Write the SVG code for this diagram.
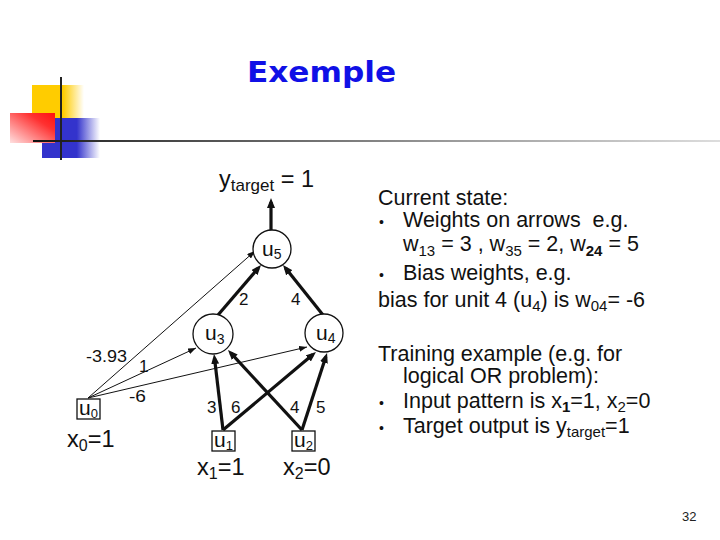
<svg xmlns="http://www.w3.org/2000/svg" width="720" height="540" viewBox="0 0 720 540">
<style>
.t{font-family:"Liberation Sans",Arial,sans-serif;fill:#111}
.rt{font-size:21.5px}
.dl{font-family:"Liberation Sans",Arial,sans-serif;fill:#111}
.node{fill:#fff;stroke:#111;stroke-width:1.3}
.thick{stroke:#111;stroke-width:3.2;fill:none}
.thin{stroke:#111;stroke-width:1;fill:none}
</style>
<defs>
<linearGradient id="gY" x1="0" y1="0" x2="1" y2="0"><stop offset="0" stop-color="#ffcc00"/><stop offset="0.6" stop-color="#ffcc00"/><stop offset="1" stop-color="#ffcc00" stop-opacity="0"/></linearGradient>
<linearGradient id="gB" x1="0" y1="0" x2="1" y2="0"><stop offset="0" stop-color="#3333cc"/><stop offset="0.6" stop-color="#3333cc"/><stop offset="1" stop-color="#3333cc" stop-opacity="0"/></linearGradient>
<linearGradient id="gR" x1="0" y1="1" x2="1" y2="0"><stop offset="0" stop-color="#ffe0e0"/><stop offset="0.7" stop-color="#ff3030"/><stop offset="1" stop-color="#ff1010"/></linearGradient>
<linearGradient id="gL" x1="33" y1="0" x2="720" y2="0" gradientUnits="userSpaceOnUse"><stop offset="0" stop-color="#111"/><stop offset="0.1" stop-color="#333"/><stop offset="0.6" stop-color="#999"/><stop offset="1" stop-color="#ddd"/></linearGradient>
<marker id="ahT" markerUnits="userSpaceOnUse" markerWidth="10" markerHeight="8" refX="6" refY="4" orient="auto"><path d="M0,0 L10,4 L0,8 z" fill="#111"/></marker>
<marker id="ahS" markerUnits="userSpaceOnUse" markerWidth="8" markerHeight="6" refX="8" refY="3" orient="auto"><path d="M0,0 L8,3 L0,6 z" fill="#111"/></marker>
</defs>
<rect width="720" height="540" fill="#fff"/>
<g id="decoration">
<rect x="32" y="85" width="52" height="34" fill="url(#gY)"/>
<rect x="42" y="118" width="58" height="40" fill="url(#gB)"/>
<rect x="10" y="113" width="45" height="30" fill="url(#gR)"/>
<line x1="61" y1="77" x2="61" y2="160" stroke="#222" stroke-width="2"/>
<line x1="33" y1="141" x2="720" y2="141" stroke="url(#gL)" stroke-width="2"/>
</g>
<text id="title" x="247" y="82" font-family="'DejaVu Sans',Verdana,sans-serif" font-weight="bold" font-size="28" fill="#1010e6" textLength="149" lengthAdjust="spacingAndGlyphs">Exemple</text>
<g id="connectors">
<line class="thick" x1="223" y1="430" x2="214.5" y2="358" marker-end="url(#ahT)"/>
<line class="thick" x1="223" y1="430" x2="312.9" y2="354.6" marker-end="url(#ahT)"/>
<line class="thick" x1="302" y1="430" x2="230.7" y2="352.9" marker-end="url(#ahT)"/>
<line class="thick" x1="302" y1="430" x2="325.8" y2="356.8" marker-end="url(#ahT)"/>
<line class="thick" x1="218" y1="315" x2="258.4" y2="268" marker-end="url(#ahT)"/>
<line class="thick" x1="323" y1="315" x2="285.5" y2="268.1" marker-end="url(#ahT)"/>
<line class="thick" x1="271" y1="230" x2="271" y2="202" marker-end="url(#ahT)"/>
<line class="thin" x1="88" y1="398" x2="255" y2="251" marker-end="url(#ahS)"/>
<line class="thin" x1="88" y1="398" x2="196" y2="348" marker-end="url(#ahS)"/>
<line class="thin" x1="88" y1="398" x2="307" y2="347" marker-end="url(#ahS)"/>
</g>
<g id="weights" class="dl" font-size="17">
<text x="86" y="362" textLength="41" lengthAdjust="spacingAndGlyphs">-3.93</text>
<text x="139" y="372">1</text>
<text x="129" y="402" textLength="17" lengthAdjust="spacingAndGlyphs">-6</text>
<text x="207" y="413">3</text>
<text x="231" y="413">6</text>
<text x="290" y="413">4</text>
<text x="316" y="413">5</text>
<text x="239" y="305">2</text>
<text x="291" y="305">4</text>
</g>
<g id="u5"><circle class="node" cx="272" cy="249" r="19"/><text class="dl" x="262" y="256" font-size="21">u<tspan font-size="14" dy="3">5</tspan></text></g>
<g id="u3"><circle class="node" cx="213" cy="334" r="20"/><text class="dl" x="205" y="340" font-size="21">u<tspan font-size="14" dy="4">3</tspan></text></g>
<g id="u4"><circle class="node" cx="324" cy="333" r="19"/><text class="dl" x="316" y="340" font-size="21">u<tspan font-size="14" dy="3">4</tspan></text></g>
<g id="u0"><rect class="node" x="77" y="399" width="23" height="20"/><text class="dl" x="79" y="415" font-size="21">u<tspan font-size="13" dy="3">0</tspan></text></g>
<g id="u1"><rect class="node" x="212" y="431" width="23" height="20"/><text class="dl" x="214" y="447" font-size="21">u<tspan font-size="13" dy="3">1</tspan></text></g>
<g id="u2"><rect class="node" x="292" y="431" width="23" height="20"/><text class="dl" x="294" y="447" font-size="21">u<tspan font-size="13" dy="3">2</tspan></text></g>
<g id="labels" class="dl" font-size="23.5">
<text x="219" y="187">y<tspan font-size="17" dy="4">target</tspan><tspan dy="-4"> = 1</tspan></text>
<text x="67" y="447">x<tspan font-size="16" dy="4">0</tspan><tspan dy="-4">=1</tspan></text>
<text x="197" y="475">x<tspan font-size="16" dy="4">1</tspan><tspan dy="-4">=1</tspan></text>
<text x="283" y="475">x<tspan font-size="16" dy="4">2</tspan><tspan dy="-4">=0</tspan></text>
</g>
<g id="notes" class="t rt">
<text x="378" y="205">Current state:</text>
<text x="379" y="227" font-size="14">•</text>
<text x="403" y="227" xml:space="preserve">Weights on arrows  e.g.</text>
<text x="403" y="251">w<tspan font-size="15" dy="5">13</tspan><tspan dy="-5"> = 3 , w</tspan><tspan font-size="15" dy="5">35</tspan><tspan dy="-5"> = 2, w</tspan><tspan font-size="15" font-weight="bold" dy="5">24</tspan><tspan dy="-5"> = 5</tspan></text>
<text x="379" y="280" font-size="14">•</text>
<text x="403" y="280">Bias weights, e.g.</text>
<text x="378" y="307">bias for unit 4 (u<tspan font-size="15" dy="4">4</tspan><tspan dy="-4">) is w</tspan><tspan font-size="15" dy="4">04</tspan><tspan dy="-4">= -6</tspan></text>
<text x="378" y="361">Training example (e.g. for</text>
<text x="403" y="383">logical OR problem):</text>
<text x="379" y="408" font-size="14">•</text>
<text x="403" y="408">Input pattern is x<tspan font-size="15" font-weight="bold" dy="4">1</tspan><tspan dy="-4">=1, x</tspan><tspan font-size="15" dy="4">2</tspan><tspan dy="-4">=0</tspan></text>
<text x="379" y="433" font-size="14">•</text>
<text x="403" y="433">Target output is y<tspan font-size="15" dy="4">target</tspan><tspan dy="-4">=1</tspan></text>
</g>
<text x="682" y="521" font-family="'Liberation Sans',Arial,sans-serif" font-size="13" fill="#222">32</text>
</svg>
